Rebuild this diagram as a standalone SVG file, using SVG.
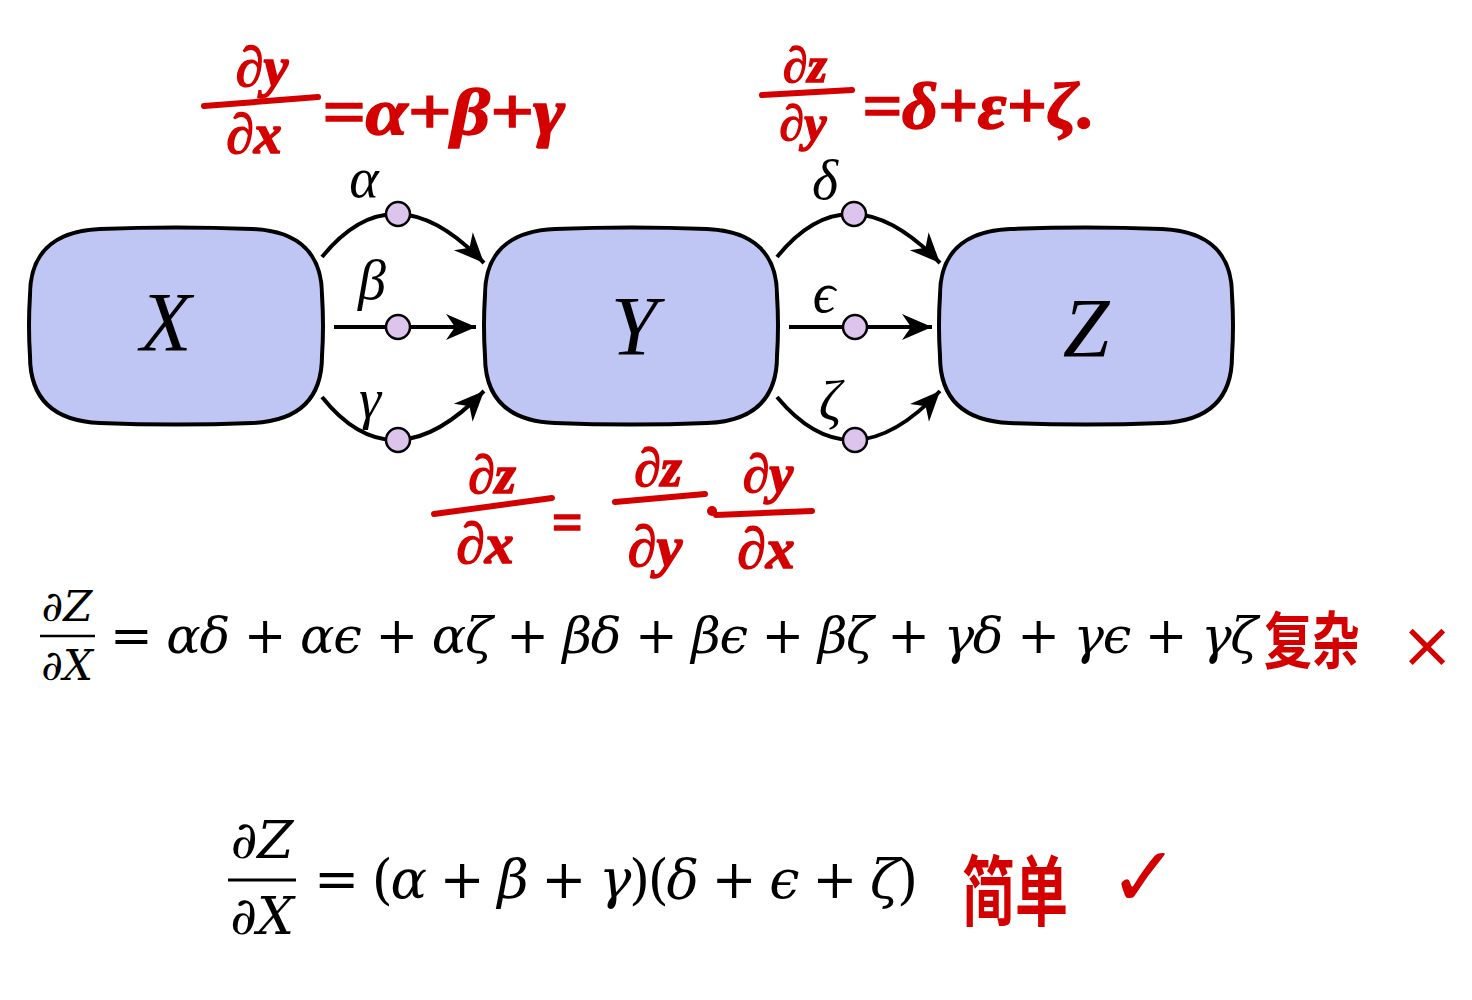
<svg xmlns="http://www.w3.org/2000/svg" width="1472" height="1000" viewBox="0 0 1472 1000">
<style>
.node{fill:#bfc6f4;stroke:#000;stroke-width:4}
.lbl{font-family:"Liberation Serif","DejaVu Serif",serif;font-style:italic;fill:#000;text-anchor:middle}
.edge{fill:none;stroke:#000;stroke-width:4}
.dot{fill:#dcc4ec;stroke:#000;stroke-width:2.5}
.math{font-family:"DejaVu Serif","Liberation Serif",serif;fill:#000}
.it{font-style:italic}
.red{font-family:"Liberation Serif","DejaVu Serif",serif;font-style:italic;font-weight:bold;fill:#d40000;stroke:#d40000;stroke-width:1.5}
.redline{stroke:#d40000;stroke-width:6;stroke-linecap:round;fill:none}
.cjk{font-family:"Noto Sans CJK SC",sans-serif;font-weight:bold;fill:#d40000}
.mark{font-family:"DejaVu Sans",sans-serif;fill:#d40000}
</style>
<defs>
<path id="box" d="M100,229 Q176,226 252,229 C300,231 322,255 322,295 Q324,326 322,356 C322,397 300,421 252,423 Q176,426 100,423 C52,421 30,397 30,356 Q28,326 30,295 C30,255 52,231 100,229 Z"/>
<marker id="arr" markerUnits="userSpaceOnUse" viewBox="-31 -15 33 30" markerWidth="33" markerHeight="30" refX="0" refY="0" orient="auto">
<path d="M0,0 L-30,-13 L-21,0 L-30,13 Z" fill="#000"/>
</marker>
</defs>

<g id="node-X"><use href="#box" class="node"/><text class="lbl" x="166" y="351" font-size="84">X</text></g>
<g id="node-Y"><use href="#box" class="node" transform="translate(455,0)"/><text class="lbl" x="634" y="355" font-size="84">Y</text></g>
<g id="node-Z"><use href="#box" class="node" transform="translate(910,0)"/><text class="lbl" x="1086" y="357" font-size="84">Z</text></g>

<g id="connectors">
<path class="edge" d="M322,257 Q394,168 484,263" marker-end="url(#arr)"/>
<path class="edge" d="M334,327 L476,327" marker-end="url(#arr)"/>
<path class="edge" d="M322,397 Q393,486 484,391" marker-end="url(#arr)"/>
<circle class="dot" cx="398" cy="214" r="12"/>
<circle class="dot" cx="398" cy="327" r="12"/>
<circle class="dot" cx="398" cy="440" r="12"/>
<text class="lbl" x="364" y="197" font-size="56">α</text>
<text class="lbl" x="372" y="299" font-size="56">β</text>
<text class="lbl" x="370" y="418" font-size="56">γ</text>

<path class="edge" d="M777,257 Q849,168 940,263" marker-end="url(#arr)"/>
<path class="edge" d="M789,327 L932,327" marker-end="url(#arr)"/>
<path class="edge" d="M777,397 Q851,486 940,391" marker-end="url(#arr)"/>
<circle class="dot" cx="854" cy="214" r="12"/>
<circle class="dot" cx="855" cy="327" r="12"/>
<circle class="dot" cx="855" cy="440" r="12"/>
<text class="lbl" x="825" y="199" font-size="56">δ</text>
<text class="lbl" x="824" y="312" font-size="56">ϵ</text>
<text class="lbl" x="830" y="420" font-size="56">ζ</text>
</g>

<g id="formula1" class="math">
<text class="it" x="67" y="621" font-size="42" text-anchor="middle">∂Z</text>
<line x1="40" y1="636" x2="95" y2="636" stroke="#000" stroke-width="2.5"/>
<text class="it" x="67" y="680" font-size="42" text-anchor="middle">∂X</text>
<text x="110" y="653" font-size="51" textLength="1148" lengthAdjust="spacing">= <tspan class="it">αδ</tspan> + <tspan class="it">αϵ</tspan> + <tspan class="it">αζ</tspan> + <tspan class="it">βδ</tspan> + <tspan class="it">βϵ</tspan> + <tspan class="it">βζ</tspan> + <tspan class="it">γδ</tspan> + <tspan class="it">γϵ</tspan> + <tspan class="it">γζ</tspan></text>
</g>

<g id="formula2" class="math">
<text class="it" x="262" y="858" font-size="52" text-anchor="middle">∂Z</text>
<line x1="228" y1="880" x2="296" y2="880" stroke="#000" stroke-width="3"/>
<text class="it" x="262" y="934" font-size="52" text-anchor="middle">∂X</text>
<text x="314" y="898" font-size="54" textLength="604" lengthAdjust="spacing">= (<tspan class="it">α</tspan> + <tspan class="it">β</tspan> + <tspan class="it">γ</tspan>)(<tspan class="it">δ</tspan> + <tspan class="it">ϵ</tspan> + <tspan class="it">ζ</tspan>)</text>
</g>

<g id="notes">
<text class="red" x="262" y="86" font-size="56" text-anchor="middle">∂y</text>
<path class="redline" d="M204,106 L318,97"/>
<text class="red" x="254" y="153" font-size="56" text-anchor="middle">∂x</text>
<text class="red" x="322" y="134" font-size="66" textLength="243" lengthAdjust="spacingAndGlyphs">=α+β+γ</text>

<text class="red" x="805" y="82" font-size="50" text-anchor="middle">∂z</text>
<path class="redline" d="M762,95 L852,90"/>
<text class="red" x="803" y="140" font-size="50" text-anchor="middle">∂y</text>
<text class="red" x="862" y="128" font-size="66" textLength="233" lengthAdjust="spacingAndGlyphs">=δ+ε+ζ.</text>

<text class="red" x="492" y="493" font-size="54" text-anchor="middle">∂z</text>
<path class="redline" d="M434,514 L552,498"/>
<text class="red" x="485" y="563" font-size="58" text-anchor="middle">∂x</text>
<text class="red" x="567" y="540" font-size="54" text-anchor="middle">=</text>
<text class="red" x="658" y="486" font-size="54" text-anchor="middle">∂z</text>
<path class="redline" d="M615,502 L705,494"/>
<text class="red" x="655" y="566" font-size="58" text-anchor="middle">∂y</text>
<circle cx="712" cy="511" r="5" fill="#d40000"/>
<text class="red" x="768" y="492" font-size="54" text-anchor="middle">∂y</text>
<path class="redline" d="M716,515 L812,511"/>
<text class="red" x="766" y="568" font-size="58" text-anchor="middle">∂x</text>

<text class="cjk" transform="translate(1264,664) scale(1,1.3)" x="0" y="0" font-size="48">复杂</text>
<text class="mark" x="1427" y="667" font-size="64" text-anchor="middle">×</text>

<text class="cjk" transform="translate(962,920) scale(1,1.45)" x="0" y="0" font-size="53">简单</text>
<text class="mark" x="1144" y="906" font-size="84" text-anchor="middle">✓</text>
</g>
</svg>
